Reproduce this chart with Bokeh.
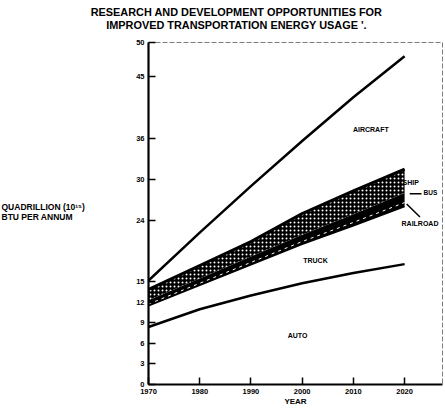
import numpy as np
from bokeh.plotting import figure
from bokeh.models import Label, FixedTicker, Range1d
from bokeh.embed import file_html
from bokeh.resources import INLINE

# Transportation energy use by mode, quadrillion BTU per annum
years = [1970, 1980, 1990, 2000, 2010, 2020]
auto = [8.4, 11.0, 13.0, 14.8, 16.3, 17.6]
truck = [3.1, 3.5, 4.5, 5.7, 6.9, 8.4]
railroad = [0.5, 0.6, 0.7, 0.8, 1.0, 1.2]
bus = [0.3, 0.4, 0.5, 0.6, 0.7, 0.8]
ship = [1.6, 1.9, 2.2, 3.1, 3.4, 3.5]
aircraft = [1.3, 4.8, 8.1, 10.6, 13.7, 16.5]

y_ticks = [0, 3, 6, 9, 12, 15, 24, 30, 36, 45, 50]
x_ticks = [1970, 1980, 1990, 2000, 2010, 2020]

# cumulative layer tops
stack = np.cumsum([auto, truck, railroad, bus, ship, aircraft], axis=0)
auto_top, truck_top, rail_top, bus_top, ship_top, total = stack

FONT = "Liberation Sans"

p = figure(width=445, height=408, output_backend="svg", toolbar_location=None,
           x_range=Range1d(1970, 2027.4), y_range=Range1d(0, 50),
           min_border_left=148, min_border_right=3, min_border_top=42,
           min_border_bottom=20, background_fill_color="white",
           border_fill_color="white")
p.grid.visible = False
p.outline_line_color = "#444444"
p.outline_line_width = 1
p.outline_line_dash = "5 2"
p.outline_line_alpha = 0.7

for ax in (p.xaxis[0], p.yaxis[0]):
    ax.axis_line_width = 2.2
    ax.axis_line_color = "black"
    ax.major_tick_in = 7
    ax.major_tick_out = 0
    ax.major_tick_line_width = 1.5
    ax.minor_tick_line_color = None
    ax.major_label_text_font = FONT
    ax.major_label_text_font_style = "bold"
    ax.major_label_text_font_size = "7.5px"
    ax.major_label_text_color = "black"
    ax.axis_label_text_font = FONT
    ax.axis_label_text_font_style = "bold"
    ax.axis_label_text_color = "black"
p.xaxis.ticker = FixedTicker(ticks=x_ticks)
p.yaxis.ticker = FixedTicker(ticks=y_ticks)
p.xaxis.major_label_standoff = 4
p.yaxis.major_label_standoff = 4

p.xaxis.axis_label = "YEAR"
p.xaxis.axis_label_text_font_size = "8px"
p.xaxis.axis_label_standoff = 0

# two-line title, lines centred on each other, in the top border
p.add_layout(Label(x=88, y=11, x_units="screen", y_units="screen",
                   text="RESEARCH AND DEVELOPMENT OPPORTUNITIES FOR\n"
                        "IMPROVED TRANSPORTATION ENERGY USAGE '.",
                   text_font=FONT, text_font_style="bold", text_font_size="10.9px",
                   text_align="center", text_baseline="bottom",
                   text_line_height=1.1, text_color="black"), "above")

# vertical-axis caption, left-aligned lines in the left border
p.add_layout(Label(x=-49, y=163, x_units="screen", y_units="screen",
                   text="QUADRILLION (10¹⁵)\nBTU PER ANNUM",
                   text_font=FONT, text_font_style="bold", text_font_size="8.5px",
                   text_align="left", text_baseline="bottom",
                   text_line_height=1.0, text_color="black"), "left")

# railroad and bus: solid black band
p.varea(x=years, y1=list(truck_top), y2=list(bus_top), fill_color="black")
# ship: stippled band
p.varea(x=years, y1=list(bus_top), y2=list(ship_top), fill_color="black",
        hatch_pattern="dot", hatch_color="white", hatch_scale=4, hatch_weight=1.2)
# white dashes inside the railroad band
rail_mid = list(truck_top + np.array(railroad) / 2)
p.line(years, rail_mid, line_color="white", line_width=1, line_dash="3 4")

p.line(years, list(truck_top), line_color="black", line_width=1.5)
p.line(years, list(ship_top), line_color="black", line_width=3)
p.line(years, list(auto_top), line_color="black", line_width=2.5)
p.line(years, list(total), line_color="black", line_width=2.5)

# pointer lines for BUS and RAILROAD
p.segment(x0=[2021.0, 2020.4], y0=[27.9, 26.4], x1=[2023.3, 2023.0], y1=[27.9, 24.5],
          line_color="black", line_width=1.5)


def lab(x, y, text, size="7px", align="center", baseline="middle"):
    p.add_layout(Label(x=x, y=y, text=text, text_font=FONT, text_font_style="bold",
                       text_font_size=size, text_align=align, text_baseline=baseline,
                       text_color="black"))


lab(2013.4, 37.3, "AIRCRAFT")
lab(2019.6, 29.6, "SHIP", align="left")
lab(2023.7, 28.0, "BUS", size="6.5px", align="left")
lab(2019.4, 23.6, "RAILROAD", align="left")
lab(2002.6, 18.2, "TRUCK")
lab(1999.1, 7.1, "AUTO")

open("out.html", "w").write(file_html(p, INLINE))
